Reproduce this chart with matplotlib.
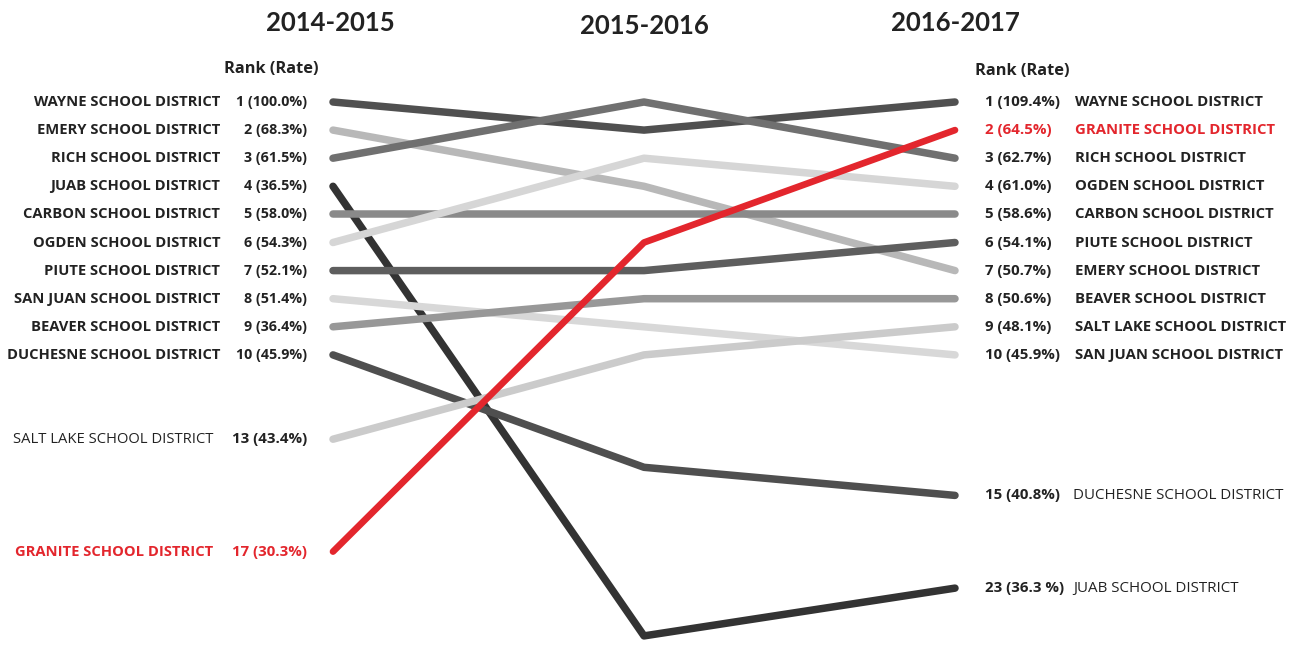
import matplotlib.pyplot as plt

# Dados
districts = ['WAYNE', 'EMERY', 'RICH', 'JUAB', 'CARBON', 'OGDEN', 'PIUTE',
             'SAN JUAN', 'BEAVER', 'DUCHESNE', 'SALT LAKE', 'GRANITE']
years = ['2014-2015', '2015-2016', '2016-2017']
rank_1415 = [1, 2, 3, 4, 5, 6, 7, 8, 9, 10, 13, 17]
rate_1415 = ['100.0', '68.3', '61.5', '36.5', '58.0', '54.3', '52.1', '51.4', '36.4', '45.9', '43.4', '30.3']
rank_1516 = [2, 4, 1, 20, 5, 3, 7, 9, 8, 14, 10, 6]
rank_1617 = [1, 7, 3, 23, 5, 4, 6, 10, 8, 15, 9, 2]
rate_1617 = ['109.4', '50.7', '62.7', '36.3 ', '58.6', '61.0', '54.1', '45.9', '50.6', '40.8', '48.1', '64.5']
# no original o rank 23 aparece desenhado bem mais acima
drawn_rank = {23: 18.3}

line_colors = ['#505050', '#b8b8b8', '#707070', '#333333', '#8a8a8a', '#d6d6d6',
               '#5e5e5e', '#d8d8d8', '#989898', '#4f4f4f', '#cbcbcb', '#e3262d']
RED = '#e3262d'
DARK = '#222222'

plt.rcParams['font.family'] = ['Lato', 'DejaVu Sans']
lab_font = ['Open Sans', 'DejaVu Sans']

fig = plt.figure(figsize=(12.89, 6.52), dpi=100)
ax = fig.add_axes([0, 0, 1, 1])
ax.set_xlim(-333 / 311, (1289 - 333) / 311)
ax.set_ylim(1 + 550 / 28.1, 1 - 102 / 28.1)
ax.axis('off')

# Linhas
for i, name in enumerate(districts):
    ys = [rank_1415[i], rank_1516[i], drawn_rank.get(rank_1617[i], rank_1617[i])]
    lw = 4.8 if name == 'GRANITE' else 5.4
    ax.plot([0, 1, 2], ys, color=line_colors[i], lw=lw, solid_capstyle='round',
            solid_joinstyle='round', zorder=3 if name == 'GRANITE' else 2)

# Cabeçalhos
for j, yr in enumerate(years):
    ax.text(j - 0.01 if j == 0 else j, -1.8 if j != 1 else -1.7, yr, ha='center', va='center',
            fontsize=18.5, fontweight='bold', color=DARK)
ax.text(-0.048, -0.17, 'Rank (Rate)', ha='right', va='center', fontsize=11.8,
        fontweight='bold', color=DARK, family=lab_font)
ax.text(2.064, -0.1, 'Rank (Rate)', ha='left', va='center', fontsize=11.8,
        fontweight='bold', color=DARK, family=lab_font)

# Rótulos esquerda
for i, name in enumerate(districts):
    r = rank_1415[i]
    col = RED if name == 'GRANITE' else DARK
    top = r <= 10
    ax.text(-0.363 if top else -0.386, r, name + ' SCHOOL DISTRICT', ha='right', va='center',
            fontsize=10.6,
            fontweight='bold' if (top or name == 'GRANITE') else 'normal',
            color=col, family=lab_font)
    ax.text(-0.0836, r, f'{r} ({rate_1415[i]}%)', ha='right', va='center',
            fontsize=10.3 if top else 10.8, fontweight='bold', color=col, family=lab_font)

# Rótulos direita
for i, name in enumerate(districts):
    r = rank_1617[i]
    y = drawn_rank.get(r, r)
    col = RED if name == 'GRANITE' else DARK
    top = r <= 10
    ax.text(2.096, y, f'{r} ({rate_1617[i]}%)', ha='left', va='center',
            fontsize=10.8, fontweight='bold', color=col, family=lab_font)
    ax.text(2.386 if top else 2.38, y, name + ' SCHOOL DISTRICT', ha='left', va='center',
            fontsize=10.7 if top else 10.9, fontweight='bold' if top else 'normal',
            color=col, family=lab_font)

fig.savefig('out.png', dpi=100, facecolor='white')
